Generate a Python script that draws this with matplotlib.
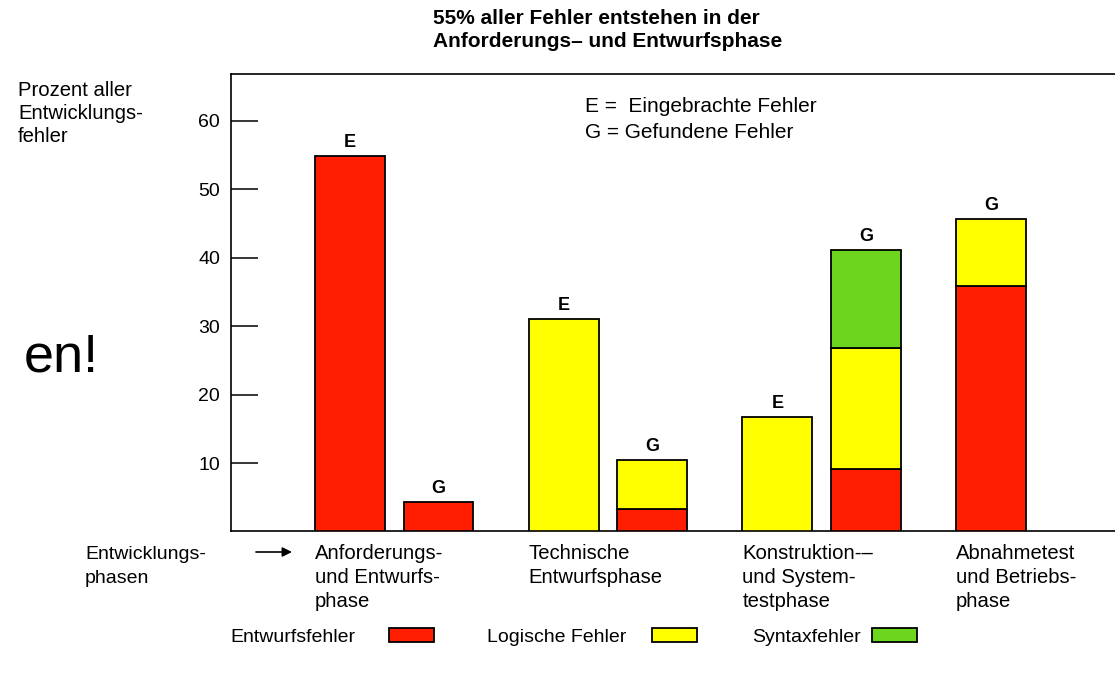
import matplotlib
matplotlib.use("Agg")
import matplotlib.pyplot as plt
import matplotlib.transforms as mtransforms
from matplotlib.patches import Rectangle
from matplotlib.text import Annotation

plt.rcParams['font.family'] = ['Liberation Sans', 'DejaVu Sans']

# ---- data ----
phases = ['Anforderungs-\nund Entwurfs-\nphase',
          'Technische\nEntwurfsphase',
          'Konstruktion-–\nund System-\ntestphase',
          'Abnahmetest\nund Betriebs-\nphase']
bar_group = [0, 0, 1, 1, 2, 2, 3]
bar_slot = [0, 1, 0, 1, 0, 1, 0]
bar_tag = ['E', 'G', 'E', 'G', 'E', 'G', 'G']
entwurf = [54.8, 4.4, 0, 3.3, 0, 9.2, 35.9]
logisch = [0, 0, 31.1, 7.2, 16.8, 17.6, 9.8]
syntax = [0, 0, 0, 0, 0, 14.3, 0]
yticks = [10, 20, 30, 40, 50, 60]
series_names = ['Entwurfsfehler', 'Logische Fehler', 'Syntaxfehler']
series_colors = ['#ff1e00', '#ffff00', '#6cd61f']

W, H = 1115, 673


def fx(px):
    return px / W


def fy(py):
    return 1 - py / H


fig = plt.figure(figsize=(W / 100, H / 100), dpi=100)
ax = fig.add_axes([fx(231), fy(530.5), 1 - fx(231), (530.5 - 74) / H])

slot_offset = 0.414
bar_width = 0.327
xs = [g + slot_offset * s for g, s in zip(bar_group, bar_slot)]

bottoms = [0] * len(xs)
for vals, color in zip([entwurf, logisch, syntax], series_colors):
    for i, v in enumerate(vals):
        if v > 0:
            ax.bar(xs[i], v, bottom=bottoms[i], width=bar_width, color=color,
                   edgecolor='black', linewidth=1.3, zorder=2)
            bottoms[i] += v

for x, top, tag in zip(xs, bottoms, bar_tag):
    ax.annotate(tag, (x, top), xytext=(0, 6.5), textcoords='offset points',
                ha='center', va='baseline', fontweight='bold', fontsize=13)

ax.set_xlim((231 - 350) / 213.7, (1115 - 350) / 213.7)
ax.set_ylim(0.19, 66.83)
ax.set_yticks(yticks)
ax.set_xticks([])
ax.tick_params(axis='y', direction='in', length=19.4, width=1.1, pad=8,
               labelsize=14)
for side in ['left', 'top', 'bottom']:
    ax.spines[side].set_linewidth(1.2)
ax.spines['right'].set_visible(False)

# phase labels under each group, left aligned to the first bar
blend = mtransforms.blended_transform_factory(ax.transData, fig.transFigure)
line_base = [559, 583, 607]
for g, label in enumerate(phases):
    for ln, txt in enumerate(label.split('\n')):
        ax.text(g - bar_width / 2, fy(line_base[ln]), txt, transform=blend,
                ha='left', va='baseline', fontsize=14.6)

# texts around the plot
for txt, base in zip(['55% aller Fehler entstehen in der',
                      'Anforderungs– und Entwurfsphase'], [24, 47]):
    fig.text(fx(433), fy(base), txt, ha='left', va='baseline',
             fontsize=15, fontweight='bold')

for txt, base in zip(['Prozent aller', 'Entwicklungs-', 'fehler'], [96, 119, 142]):
    fig.text(fx(18), fy(base), txt, ha='left', va='baseline', fontsize=14.6)

for txt, base in zip(['E =  Eingebrachte Fehler', 'G = Gefundene Fehler'], [112, 138]):
    fig.text(fx(585), fy(base), txt, ha='left', va='baseline', fontsize=15)

for txt, base in zip(['Entwicklungs-', 'phasen'], line_base[:2]):
    fig.text(fx(85), fy(base), txt, ha='left', va='baseline', fontsize=14)

fig.text(fx(24), fy(372), 'en!', ha='left', va='baseline', fontsize=39)

fig.add_artist(Annotation(
    '', xy=(fx(292), fy(552)), xytext=(fx(256), fy(552)),
    xycoords='figure fraction', textcoords='figure fraction',
    arrowprops=dict(arrowstyle='-|>', color='black', lw=1.2,
                    mutation_scale=14, shrinkA=0, shrinkB=0)))

# legend row: label followed by a colour swatch
legend_text_x = [230, 487, 752]
legend_patch_x = [389, 652, 872]
for name, color, tx, px in zip(series_names, series_colors,
                               legend_text_x, legend_patch_x):
    fig.text(fx(tx), fy(642), name, ha='left', va='baseline', fontsize=14)
    fig.add_artist(Rectangle((fx(px), fy(642)), 45 / W, 14 / H,
                             transform=fig.transFigure, facecolor=color,
                             edgecolor='black', linewidth=1.3))

fig.savefig('out.png', dpi=100)
